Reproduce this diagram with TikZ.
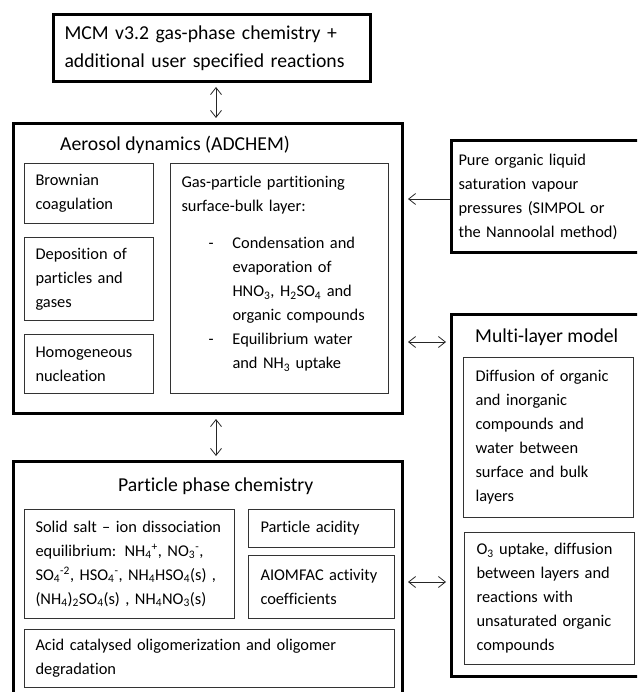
\documentclass[tikz,border=0pt]{standalone}
\usepackage{fontspec}
\setmainfont{Carlito}[Ligatures=NoCommon]
\usetikzlibrary{arrows.meta}

\newcommand{\boxfont}{\fontsize{16.4}{24}\selectfont\hyphenpenalty=10000}
\newcommand{\headfont}{\fontsize{19.7}{28}\selectfont}
\newcommand{\dashin}{\hspace*{27pt}\makebox[24pt][l]{-}}
\newcommand{\hangin}{\hspace*{51pt}}

\begin{document}
\begin{tikzpicture}[x=1pt,y=-1pt,>={Straight Barb[length=7pt,width=11pt]},
		outer/.style={draw, line width=3pt, anchor=north west, inner sep=0pt},
		inner/.style={draw=black!80, line width=1pt, anchor=north west, align=left, inner ysep=0pt, font=\boxfont},
		head/.style={anchor=base west, inner sep=0pt, font=\headfont},
		link/.style={line width=.8pt, black!85, shorten <=4pt, shorten >=4pt}]
		\useasboundingbox (0,0) rectangle (637,692);
		\clip (0,0) rectangle (637,692);
		\node[outer, font=\headfont, align=left, inner xsep=11pt, text width=295pt, minimum height=67pt] (mcm) at (52,13) {MCM v3.2 gas-phase chemistry +\\additional user specified reactions};
		\node[outer, minimum width=389pt, minimum height=290pt] (aero) at (12,122) {};
		\node[head] (aerot) at (60,151) {Aerosol dynamics (ADCHEM)};
		\node[inner, inner xsep=11pt, text width=107pt, minimum height=60pt] (brown) at (24,163) {Brownian\\coagulation};
		\node[inner, inner xsep=11pt, text width=107pt, minimum height=83pt] (depo) at (24,237) {Deposition of\\particles and\\gases};
		\node[inner, inner xsep=11pt, text width=107pt, minimum height=59pt] (homo) at (24,334) {Homogeneous\\nucleation};
		\node[inner, inner xsep=11pt, text width=196pt, minimum height=230pt] (gas) at (170,163) {Gas-particle partitioning\\surface-bulk layer:\\[13pt]\dashin Condensation and\\\hangin evaporation of\\\hangin HNO\textsubscript{3}, H\textsubscript{2}SO\textsubscript{4} and\\\hangin organic compounds\\\dashin Equilibrium water\\\hangin and NH\textsubscript{3} uptake\\[-12pt]\mbox{}};
		\node[outer, font=\boxfont, align=left, inner xsep=7pt, text width=240pt, minimum height=112pt] (org) at (450,139) {Pure organic liquid\\saturation vapour\\pressures (SIMPOL or\\the Nannoolal method)};
		\node[outer, minimum width=260pt, minimum height=362pt] (ml) at (450,313) {};
		\node[head] (mlt) at (475,342) {Multi-layer model};
		\node[inner, inner xsep=12pt, text width=146pt, minimum height=160pt] (diff) at (463,357) {Diffusion of organic\\and inorganic\\compounds and\\water between\\surface and bulk\\layers};
		\node[inner, inner xsep=12pt, text width=146pt, minimum height=132pt] (ozone) at (464,532) {O\textsubscript{3} uptake, diffusion\\between layers and\\reactions with\\unsaturated organic\\compounds};
		\node[outer, minimum width=389pt, minimum height=300pt] (part) at (12,460) {};
		\node[head] (partt) at (118,491) {Particle phase chemistry};
		\node[inner, inner xsep=11pt, text width=188pt, minimum height=109pt] (salt) at (24,509) {\mbox{Solid salt -- ion dissociation}\\\mbox{equilibrium: NH\textsubscript{4}\textsuperscript{+}, NO\textsubscript{3}\textsuperscript{-},}\\\mbox{SO\textsubscript{4}\textsuperscript{-2}, HSO\textsubscript{4}\textsuperscript{-}, NH\textsubscript{4}HSO\textsubscript{4}(s) ,}\\\mbox{(NH\textsubscript{4})\textsubscript{2}SO\textsubscript{4}(s) , NH\textsubscript{4}NO\textsubscript{3}(s)}};
		\node[inner, inner xsep=12pt, text width=122pt, minimum height=38pt] (acid) at (248,509) {Particle acidity};
		\node[inner, inner xsep=12pt, text width=122pt, minimum height=63pt] (aiom) at (248,555) {\mbox{AIOMFAC activity}\\coefficients};
		\node[inner, inner xsep=11pt, text width=348pt, minimum height=58pt] (olig) at (24,629) {Acid catalysed oligomerization and oligomer\\degradation};
		\coordinate (vx) at (216,0);
		\coordinate (hy) at (0,199);
		\coordinate (hm) at (0,342);
		\coordinate (hp) at (0,582);
		\draw[link, <->] (vx |- mcm.south) -- (vx |- aero.north);
		\draw[link, <->] (vx |- aero.south) -- (vx |- part.north);
		\draw[link, ->, shorten <=0pt] (hy -| org.west) -- (hy -| aero.east);
		\draw[link, <->] (hm -| aero.east) -- (hm -| ml.west);
		\draw[link, <->] (hp -| part.east) -- (hp -| ml.west);
\end{tikzpicture}
\end{document}
